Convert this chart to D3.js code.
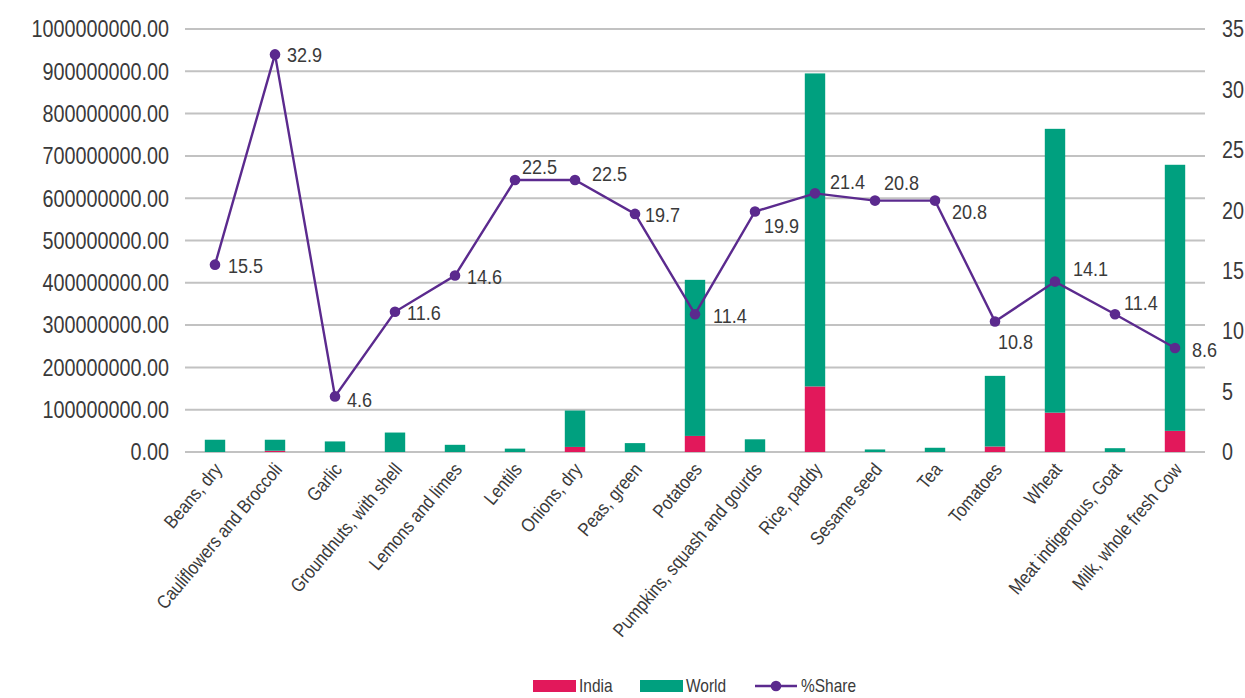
<!DOCTYPE html>
<html>
<head>
<meta charset="utf-8">
<script src="https://cdn.jsdelivr.net/npm/d3@7"></script>
<style>
  html, body { margin: 0; padding: 0; background: #ffffff; }
  svg text { font-family: "Liberation Sans", Arial, sans-serif; fill: #3a3a3a; }
</style>
</head>
<body>
<svg id="chart" width="1245" height="698"></svg>
<script>
// Crop production (tonnes): India stacked with World, plus India's % share
const categories = [
  "Beans, dry", "Cauliflowers and Broccoli", "Garlic", "Groundnuts, with shell",
  "Lemons and limes", "Lentils", "Onions, dry", "Peas, green", "Potatoes",
  "Pumpkins, squash and gourds", "Rice, paddy", "Sesame seed", "Tea", "Tomatoes",
  "Wheat", "Meat indigenous, Goat", "Milk, whole fresh Cow"
];
const india = [0, 3e6, 0, 0, 0, 0, 12e6, 0, 38e6, 0, 155e6, 0, 0, 13e6, 93e6, 0, 50e6];
const world = [29e6, 26e6, 25e6, 46e6, 17e6, 8e6, 86e6, 21e6, 369e6, 30e6, 740e6, 6e6, 10e6, 167e6, 671e6, 9e6, 629e6];
const share = [15.5, 32.9, 4.6, 11.6, 14.6, 22.5, 22.5, 19.7, 11.4, 19.9, 21.4, 20.8, 20.8, 10.8, 14.1, 11.4, 8.6];
const leftTicks = [0, 1e8, 2e8, 3e8, 4e8, 5e8, 6e8, 7e8, 8e8, 9e8, 1e9];
const rightTicks = [0, 5, 10, 15, 20, 25, 30, 35];
const seriesNames = ["India", "World", "%Share"];

// per-point label offsets for the %Share values
const labelOffsets = [
  [13, 1], [12, 0], [12, 3], [12, 1], [12, 1], [7, -13], [17, -6], [10, 1], [18, 1],
  [9, 14], [15, -12], [9, -18], [17, 11], [3, 20], [18, -13], [9, -12], [17, 2]
];

const colors = { India: "#e2185b", World: "#00a07f", Share: "#5b2a8e", grid: "#c2c2c2" };
const SX = 0.86; // horizontal squeeze giving the narrow lettering

const svg = d3.select("#chart");
const margin = { left: 185, right: 40, top: 29, bottom: 246 };
const W = 1245, H = 698;
const x0 = margin.left, x1 = W - margin.right;
const y0 = H - margin.bottom, y1 = margin.top;

const x = d3.scaleBand().domain(categories).range([x0, x1]).paddingInner(0).paddingOuter(0);
const yL = d3.scaleLinear().domain([0, 1e9]).range([y0, y1]);
const yR = d3.scaleLinear().domain([0, 35]).range([y0, y1]);

// narrow text placed at (px, py)
function narrowText(sel, px, py, size, anchor, extra = "") {
  return sel.append("text")
    .attr("transform", `translate(${px},${py}) ${extra} scale(${SX},1)`)
    .attr("text-anchor", anchor)
    .attr("dy", "0.35em")
    .style("font-size", size + "px");
}

// gridlines
svg.append("g").selectAll("line").data(leftTicks).join("line")
  .attr("x1", x0).attr("x2", x1)
  .attr("y1", d => yL(d)).attr("y2", d => yL(d))
  .attr("stroke", colors.grid).attr("stroke-width", 2);

// left axis
const leftAxis = svg.append("g").attr("transform", `translate(${x0 - 16},0)`)
  .call(d3.axisLeft(yL).tickValues(leftTicks).tickSize(0).tickPadding(0).tickFormat(d => d3.format(".2f")(d)));
leftAxis.select(".domain").remove();
leftAxis.selectAll(".tick text")
  .attr("x", null).attr("dy", "0.34em")
  .attr("transform", `scale(${SX},1)`)
  .attr("fill", "#3a3a3a").style("font-size", "23px")
  .style("font-family", "'Liberation Sans', Arial, sans-serif");

// right axis
const rightAxis = svg.append("g").attr("transform", `translate(${x1 + 17},0)`)
  .call(d3.axisRight(yR).tickValues(rightTicks).tickSize(0).tickPadding(0));
rightAxis.select(".domain").remove();
rightAxis.selectAll(".tick text")
  .attr("x", null).attr("dy", "0.34em")
  .attr("transform", `scale(${SX},1)`)
  .attr("fill", "#3a3a3a").style("font-size", "23px")
  .style("font-family", "'Liberation Sans', Arial, sans-serif");

// stacked bars
const rows = categories.map((c, i) => ({ cat: c, India: india[i], World: world[i] }));
const stacked = d3.stack().keys(["India", "World"])(rows);
const barW = x.bandwidth() * 0.34;
svg.append("g").selectAll("g").data(stacked).join("g")
  .attr("fill", d => colors[d.key])
  .selectAll("rect").data(d => d).join("rect")
  .attr("x", d => x(d.data.cat) + (x.bandwidth() - barW) / 2)
  .attr("width", barW)
  .attr("y", d => yL(d[1]))
  .attr("height", d => yL(d[0]) - yL(d[1]));

// %Share line
const cx = i => x(categories[i]) + x.bandwidth() / 2;
const line = d3.line().x((d, i) => cx(i)).y(d => yR(d));
svg.append("path").datum(share)
  .attr("d", line).attr("fill", "none")
  .attr("stroke", colors.Share).attr("stroke-width", 2.4);
svg.append("g").selectAll("circle").data(share).join("circle")
  .attr("cx", (d, i) => cx(i)).attr("cy", d => yR(d)).attr("r", 5.3)
  .attr("fill", colors.Share);
const shareLabels = svg.append("g");
share.forEach((d, i) => {
  narrowText(shareLabels, cx(i) + labelOffsets[i][0], yR(d) + labelOffsets[i][1], 21, "start")
    .text(d.toFixed(1));
});

// category labels
const catLabels = svg.append("g");
categories.forEach(c => {
  catLabels.append("text")
    .attr("transform", `translate(${x(c) + x.bandwidth() / 2 + 8},${y0 + 18}) rotate(-50) scale(${SX},1)`)
    .attr("text-anchor", "end")
    .style("font-size", "19px")
    .text(c);
});

// legend
const legend = svg.append("g");
const ly = 686;
legend.append("rect").attr("x", 533).attr("y", ly - 6).attr("width", 43).attr("height", 12).attr("fill", colors.India);
narrowText(legend, 579, ly, 18, "start").text(seriesNames[0]);
legend.append("rect").attr("x", 640).attr("y", ly - 6).attr("width", 43).attr("height", 12).attr("fill", colors.World);
narrowText(legend, 686, ly, 18, "start").text(seriesNames[1]);
legend.append("line").attr("x1", 755).attr("x2", 797).attr("y1", ly).attr("y2", ly)
  .attr("stroke", colors.Share).attr("stroke-width", 2.4);
legend.append("circle").attr("cx", 776).attr("cy", ly).attr("r", 5.3).attr("fill", colors.Share);
narrowText(legend, 801, ly, 18, "start").text(seriesNames[2]);
</script>
</body>
</html>
